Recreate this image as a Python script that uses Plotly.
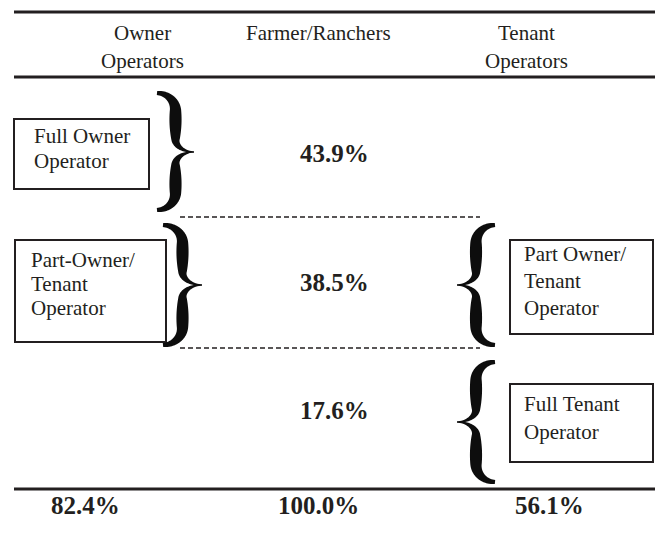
import numpy as np
import plotly.graph_objects as go

# ---------------- data ----------------
header_owner = ["Owner", "Operators"]
header_all = ["Farmer/Ranchers"]
header_tenant = ["Tenant", "Operators"]

segment_shares = [43.9, 38.5, 17.6]        # full owner, part owner/tenant, full tenant
totals = [82.4, 100.0, 56.1]               # owner operators, all, tenant operators

owner_labels = [["Full Owner", "Operator"], ["Part-Owner/", "Tenant", "Operator"]]
tenant_labels = [["Part Owner/", "Tenant", "Operator"], ["Full Tenant", "Operator"]]

# ---------------- layout helpers ----------------
W, H = 655, 535
INK = "#231f20"
SERIF = "Liberation Serif, Times New Roman, serif"

fig = go.Figure()
fig.add_trace(go.Scatter(x=[0], y=[0], mode="markers", marker=dict(opacity=0),
                         hoverinfo="skip", showlegend=False))


def text(x, y, s, size=21, bold=False, anchor="center"):
    fig.add_annotation(x=x, y=y, xref="x", yref="y", text=("<b>%s</b>" % s) if bold else s,
                       showarrow=False, xanchor=anchor, yanchor="middle",
                       font=dict(family=SERIF, size=size, color=INK))


def hline(y, x0, x1, width=3, dash=None):
    fig.add_shape(type="line", xref="x", yref="y", x0=x0, x1=x1, y0=y, y1=y,
                  line=dict(color=INK, width=width, dash=dash))


def box(x0, y0, x1, y1):
    fig.add_shape(type="rect", xref="x", yref="y", x0=x0, x1=x1, y0=y0, y1=y1,
                  line=dict(color=INK, width=2), fillcolor="rgba(0,0,0,0)")


def brace(x_end, x_tip, y_top, y_tip, y_bot, a=0.30, b=0.22, n=160):
    for (ya, yb) in ((y_top, y_tip), (y_bot, y_tip)):
        s = np.linspace(0, 1, n)
        u = np.full(n, 0.5)
        m1 = s < a
        r1 = s[m1] / a
        u[m1] = 0.5 * np.sqrt(np.clip(1 - (1 - r1) ** 2, 0, 1))
        m2 = s > 1 - b
        r2 = (s[m2] - (1 - b)) / b
        u[m2] = 0.5 + 0.5 * (1 - np.sqrt(np.clip(1 - r2 ** 2, 0, 1)))
        xs = x_end + u * (x_tip - x_end)
        ys = ya + s * (yb - ya)
        th = 4.2 * (1 - s) + 0.9 * s + 9.5 * np.sin(np.pi * s) ** 0.7
        dx = np.gradient(xs)
        dy = np.gradient(ys)
        ln = np.hypot(dx, dy)
        ln[ln == 0] = 1
        nx, ny = -dy / ln, dx / ln
        lx, ly = xs + nx * th / 2, ys + ny * th / 2
        rx, ry = xs - nx * th / 2, ys - ny * th / 2
        px = np.concatenate([lx, rx[::-1]])
        py = np.concatenate([ly, ry[::-1]])
        path = "M " + " L ".join("%.2f,%.2f" % (p, q) for p, q in zip(px, py)) + " Z"
        fig.add_shape(type="path", xref="x", yref="y", path=path,
                      fillcolor="#0d0d0d", line=dict(width=0))


# ---------------- rules ----------------
hline(12, 14, W, width=3)
hline(77, 14, W, width=3)
hline(489, 14, W, width=3)
hline(217, 180, 480, width=1.5, dash="5px,3px")
hline(348, 180, 480, width=1.5, dash="5px,3px")

# ---------------- header ----------------
text(142, 33, header_owner[0])
text(142, 61, header_owner[1])
text(318, 33, header_all[0])
text(526, 33, header_tenant[0])
text(526, 61, header_tenant[1])

# ---------------- middle percentages ----------------
seg_y = [153, 282, 410]
for v, y in zip(segment_shares, seg_y):
    text(334, y, "%.1f%%" % v, size=25, bold=True)

# ---------------- totals ----------------
for v, x in zip(totals, [85, 318, 549]):
    text(x, 505, "%.1f%%" % v, size=25, bold=True)

# ---------------- boxes ----------------
box(14, 119, 149, 189)
box(15, 240, 166, 342)
box(510, 240, 653, 334)
box(510, 384, 653, 462)

for lbl, (x, y0, dy) in zip(owner_labels, [(32, 136, 25), (29, 260, 24)]):
    for i, s in enumerate(lbl):
        text(x, y0 + i * dy, s, anchor="left")
for lbl, (x, y0, dy) in zip(tenant_labels, [(522, 254, 27), (522, 404, 28)]):
    for i, s in enumerate(lbl):
        text(x, y0 + i * dy, s, anchor="left")

# ---------------- braces ----------------
brace(157, 194, 93, 152, 210)
brace(163, 202, 225, 285, 345)
brace(495, 457, 225, 285, 345)
brace(495, 457, 362, 422, 482)

fig.update_layout(
    width=W, height=H, margin=dict(l=0, r=0, t=0, b=0),
    paper_bgcolor="white", plot_bgcolor="white",
    xaxis=dict(range=[0, W], visible=False, fixedrange=True),
    yaxis=dict(range=[H, 0], visible=False, fixedrange=True),
    showlegend=False,
)

fig.write_html("out.html", config={"displayModeBar": False},
               post_script="document.body.style.margin='0';document.body.style.overflow='hidden';")
